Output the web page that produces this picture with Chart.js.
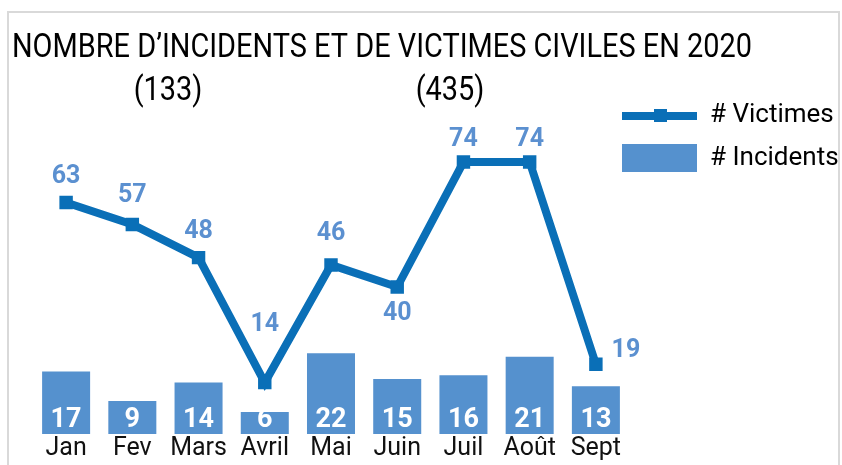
<!DOCTYPE html>
<html>
<head>
<meta charset="utf-8">
<script src="https://cdn.jsdelivr.net/npm/chart.js@4/dist/chart.umd.min.js"></script>
<style>
  html, body { margin: 0; padding: 0; background: #fff; }
  #wrap { width: 842px; height: 465px; }
</style>
</head>
<body>
<div id="wrap"><canvas id="chart" width="842" height="465"></canvas></div>
<script>
// data
const months = ['Jan', 'Fev', 'Mars', 'Avril', 'Mai', 'Juin', 'Juil', 'Août', 'Sept'];
const victimes = [63, 57, 48, 14, 46, 40, 74, 74, 19];
const incidents = [17, 9, 14, 6, 22, 15, 16, 21, 13];
const titleText = 'NOMBRE D\u2019INCIDENTS ET DE VICTIMES CIVILES EN 2020';
const totalIncidents = '(133)';
const totalVictimes = '(435)';

const LINE_BLUE = '#0a6fb7';
const BAR_BLUE = '#5591ce';
const LABEL_BLUE = '#5b90d0';

// draws text squeezed horizontally (the title uses a condensed face)
function squeezed(ctx, text, x, y, sx, align) {
  ctx.save();
  ctx.translate(x, y);
  ctx.scale(sx, 1);
  ctx.textAlign = align || 'center';
  ctx.fillText(text, 0, 0);
  ctx.restore();
}

const decor = {
  id: 'decor',
  afterDraw(chart) {
    const ctx = chart.ctx;
    ctx.save();

    // frame
    ctx.strokeStyle = '#d9d9d9';
    ctx.lineWidth = 2;
    ctx.strokeRect(8, 12, 831, 470);

    // title + totals
    ctx.fillStyle = '#000';
    ctx.textBaseline = 'middle';
    ctx.font = '33px Roboto';
    const sx = 740 / ctx.measureText(titleText).width;
    squeezed(ctx, titleText, 12, 49, sx, 'left');
    squeezed(ctx, totalIncidents, 168, 92, sx);
    squeezed(ctx, totalVictimes, 450, 92, sx);

    // category labels, placed by the x scale
    const xs = chart.scales.x;
    ctx.font = '25px Roboto';
    ctx.fillStyle = '#111';
    ctx.textAlign = 'center';
    xs.ticks.forEach((t, i) => {
      ctx.fillText(xs.getLabelForValue(t.value), xs.getPixelForTick(i), xs.bottom + 15);
    });

    // legend
    ctx.fillStyle = LINE_BLUE;
    ctx.fillRect(622, 112, 75, 8);
    ctx.fillRect(654, 109, 13, 13);
    ctx.fillStyle = BAR_BLUE;
    ctx.fillRect(622, 144, 75, 28);
    ctx.fillStyle = '#000';
    ctx.font = '26px Roboto';
    ctx.textAlign = 'left';
    ctx.fillText('# Victimes', 710, 115);
    ctx.fillText('# Incidents', 710, 158);

    // value labels
    ctx.textAlign = 'center';
    ctx.font = 'bold 27px Roboto';
    const barMeta = chart.getDatasetMeta(1);
    ctx.fillStyle = '#fff';
    barMeta.data.forEach((bar, i) => {
      ctx.fillText(String(incidents[i]), bar.x, bar.base - 14);
    });
    const lineMeta = chart.getDatasetMeta(0);
    const dy = [-26, -29, -26, -58, -31, 27, -22, -22, -13];
    const dx = [0, 0, 0, 0, 0, 0, 0, 0, 30];
    ctx.font = 'bold 25px Roboto';
    ctx.fillStyle = LABEL_BLUE;
    lineMeta.data.forEach((pt, i) => {
      ctx.fillText(String(victimes[i]), pt.x + dx[i], pt.y + dy[i]);
    });

    ctx.restore();
  }
};

new Chart(document.getElementById('chart'), {
  data: {
    labels: months,
    datasets: [
      {
        type: 'line',
        label: '# Victimes',
        data: victimes,
        order: 0,
        borderColor: LINE_BLUE,
        backgroundColor: LINE_BLUE,
        borderWidth: 8,
        tension: 0,
        pointStyle: 'rect',
        pointRadius: 9.5,
        pointBorderWidth: 0,
        pointBackgroundColor: LINE_BLUE
      },
      {
        type: 'bar',
        label: '# Incidents',
        data: incidents,
        order: 1,
        backgroundColor: BAR_BLUE,
        categoryPercentage: 1,
        barPercentage: 0.725
      }
    ]
  },
  options: {
    responsive: false,
    animation: false,
    layout: { padding: { left: 33, right: 213, top: 140, bottom: 31 } },
    plugins: {
      legend: { display: false },
      title: { display: false },
      tooltip: { enabled: false }
    },
    scales: {
      x: {
        offset: true,
        grid: { display: false, drawTicks: false },
        border: { display: false },
        ticks: { display: false }
      },
      y: {
        display: false,
        min: 0,
        max: 80
      }
    }
  },
  plugins: [decor]
});
</script>
</body>
</html>
